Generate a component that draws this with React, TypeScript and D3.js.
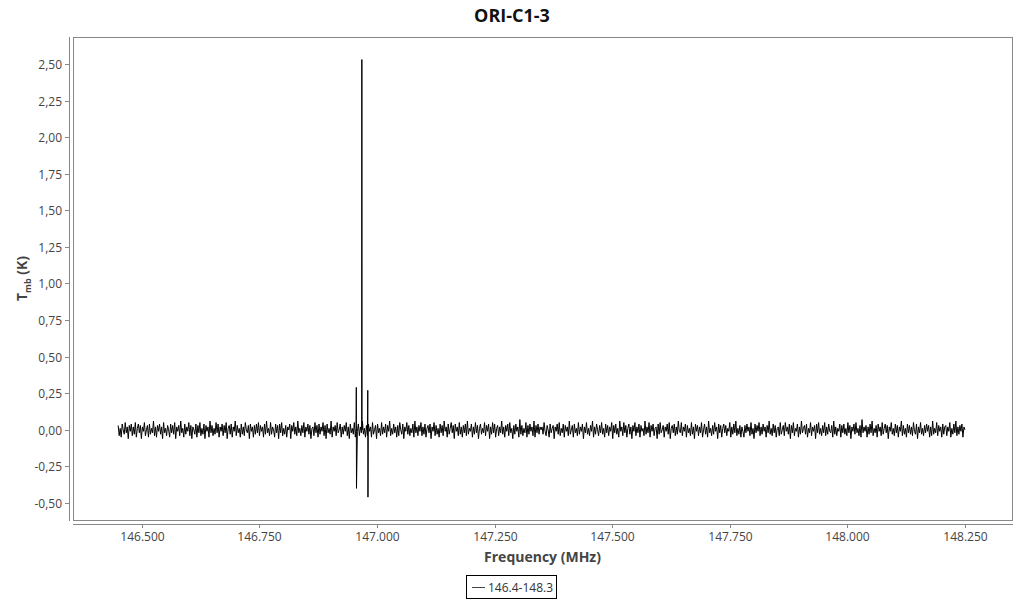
import React from "react";
import * as d3 from "d3";

const title = "ORI-C1-3";
const seriesName = "146.4-148.3";
const xTicks = [146.5, 146.75, 147.0, 147.25, 147.5, 147.75, 148.0, 148.25];
const yTicks = [-0.5, -0.25, 0, 0.25, 0.5, 0.75, 1.0, 1.25, 1.5, 1.75, 2.0, 2.25, 2.5];
const freqStart = 146.45;
const freqEnd = 148.25;

// baseline noise in units of 0.01 K, read as an approximate trace across the band
const noiseCentiK = [
  3,-4,1,-5,4,0,-3,5,-2,2,-6,3,-1,4,-4,2,-3,5,-5,1,
  4,-2,3,-6,2,-1,5,-4,0,3,-5,4,-3,1,-2,6,-4,2,-5,3,
  -1,4,-3,2,-6,5,-2,1,-4,3,0,-5,4,-2,3,-3,5,-6,2,-1,
  3,-4,6,-2,1,-5,4,-3,2,-1,5,-4,3,-6,2,0,-3,4,-5,3,
  -2,5,-4,1,-3,4,-6,3,-1,2,-5,6,-2,3,-4,1,-3,5,-2,4,
  -5,2,-1,4,-4,3,-2,5,-6,1,3,-3,4,-5,2,-1,6,-4,3,-2,
  1,-5,4,-3,2,-4,5,0,-2,3,-6,4,-1,2,-5,3,-3,4,-2,5,
  -4,3,-1,2,-5,4,-3,6,-2,1,-4,5,-3,2,0,-5,4,-2,3,-6,
  4,-2,5,-4,1,-3,3,-5,2,0,4,-6,3,-1,5,-3,2,-4,6,-2,
  1,-4,3,-2,5,-5,2,-1,4,-3,3,-6,1,2,-4,5,-2,3,-5,4,
  -3,2,-1,5,-4,3,-6,4,-2,1,-3,6,-5,2,-1,3,-4,5,-2,0,
  4,-5,2,-3,3,-1,5,-4,2,-6,4,-2,1,-3,5,-5,3,-1,4,-4,
  2,-2,6,-3,1,-5,3,-4,4,-1,2,-5,5,-3,0,3,-6,4,-2,1,
  -4,5,-3,2,-2,4,-5,3,-1,6,-4,1,-3,4,-2,2,-5,3,-4,5,
  0,-3,4,-6,2,-1,5,-3,3,-4,1,-2,4,-5,6,-2,2,-4,3,-1,
  5,-4,2,-3,4,-5,1,3,-2,4,-6,2,-1,5,-4,3,-3,1,-5,4,
  -2,3,-4,6,-1,2,-5,4,-3,1,5,-2,3,-6,4,-1,2,-4,5,-3,
  2,-5,3,-2,4,-4,6,-3,1,-1,4,-5,2,-3,5,-2,3,-6,1,4,
  -3,1,-2,5,-4,3,-1,4,-6,2,-3,5,-2,4,-5,1,3,-4,2,-2,
  6,-3,2,-5,3,-1,4,-4,5,-2,1,-6,3,-3,4,-1,2,-5,7,-3,
  3,-4,1,-2,5,-5,3,-3,4,-1,2,-4,6,-5,3,-2,4,-3,2,0,
  2,-3,5,-1,-4,3,0,-5,4,-2,1,3,-6,2,-1,4,-3,5,-4,1,
  -2,4,-5,3,-1,2,-4,6,-3,0,3,-5,4,-2,1,-4,5,-3,2,-1,
  4,-6,2,-2,5,-3,1,-4,3,-1,6,-5,2,-3,4,0,-4,3,-2,5,
  -3,1,-5,4,-2,3,-4,2,-1,5,-6,3,-2,4,-3,1,-5,6,-1,2,
  -4,5,-2,3,-5,1,4,-3,2,-6,3,-1,5,-4,2,-2,4,-5,3,-1,
  1,-4,6,-3,2,-2,5,-5,3,-1,4,-4,1,2,-6,4,-3,5,-2,0,
  3,-5,2,-1,4,-3,5,-6,1,3,-2,4,-4,2,-3,6,-1,-2,5,-4,
  2,-1,4,-5,3,-2,1,-4,5,-3,2,-6,4,-1,3,-4,2,-2,5,-5,
  0,4,-3,2,-5,6,-2,1,-4,3,-3,5,-1,2,-6,4,-2,3,-5,1,
  4,-2,3,-4,1,-1,5,-5,2,-3,4,-2,6,-4,1,-3,3,-5,2,-1,
  -5,3,-2,4,-1,2,-4,5,-3,1,-6,4,-2,3,-1,5,-4,2,-3,4,
  -1,2,-5,3,-2,6,-3,1,-4,4,-2,3,-5,1,2,-4,5,-3,0,3,
  -4,5,-1,2,-3,4,-6,3,-2,5,-4,1,-1,4,-5,2,-3,6,-2,1,
  3,-3,4,-5,1,-2,5,-4,2,-1,3,-6,4,-2,5,-3,1,-4,3,-2,
  5,-4,2,-3,4,-1,-2,3,-5,6,-3,2,-4,1,-1,4,-5,3,-2,4,
  -3,1,-4,5,-2,3,-6,2,-1,4,-3,5,-2,1,-4,3,-5,7,-2,2,
  -1,3,-5,2,-3,4,-2,6,-4,1,-2,3,-5,4,-1,2,-4,5,-3,1,
  4,-2,3,-6,2,-1,5,-3,1,-4,4,-2,3,-5,2,-1,6,-4,3,-3,
  1,-5,4,-2,3,-3,2,-4,5,-1,-3,4,-6,2,-2,5,-3,1,-4,3,
  -2,4,-1,3,-5,2,-4,6,-3,1,-2,5,-4,3,-1,2,-5,4,-3,2,
  3,-4,2,-1,5,-5,1,-3,4,-2,6,-4,2,-3,3,-1,4,-5,2,0,
];

// emission / absorption features (MHz, K)
const lineFreqs = [146.9558, 146.9562, 146.9566, 146.9676, 146.968, 146.9684, 146.9806, 146.981, 146.9813, 146.9816];
const lineVals = [0.01, 0.29, -0.40, 0.0, 2.53, 0.0, 0.27, -0.46, -0.29, 0.01];

const W = 1024;
const H = 600;
const frame = { left: 73, top: 37, right: 1012, bottom: 520 };
const yAxisX = 69;
const xAxisY = 524;
const FONT = "'Open Sans', 'Noto Sans', sans-serif";

export default function App() {
  const x = d3.scaleLinear().domain([146.354, 148.35]).range([frame.left, frame.right]);
  const y = d3.scaleLinear().domain([-0.616, 2.684]).range([frame.bottom, frame.top]);

  const step = (freqEnd - freqStart) / (noiseCentiK.length - 1);
  const pts: [number, number][] = noiseCentiK.map((v, i) => [freqStart + i * step, v / 100]);
  lineFreqs.forEach((f, i) => pts.push([f, lineVals[i]]));
  pts.sort((a, b) => a[0] - b[0]);

  const line = d3.line<[number, number]>().x((d) => x(d[0])).y((d) => y(d[1]));
  const fmtY = (v: number) => d3.format(".2f")(v).replace(".", ",").replace("−", "-");
  const fmtX = d3.format(".3f");

  return (
    <svg width={W} height={H} style={{ position: "absolute", left: 0, top: 0, background: "#fff" }} fontFamily={FONT}>
      <text x={512} y={22} textAnchor="middle" fontSize={18} fontWeight="bold" fill="#111">{title}</text>
      <rect x={frame.left + 0.5} y={frame.top + 0.5} width={frame.right - frame.left} height={frame.bottom - frame.top} fill="none" stroke="#888" strokeWidth={1} />
      <line x1={yAxisX + 0.5} x2={yAxisX + 0.5} y1={frame.top} y2={frame.bottom + 1} stroke="#888" />
      <line x1={frame.left} x2={frame.right + 1} y1={xAxisY + 0.5} y2={xAxisY + 0.5} stroke="#888" />
      {yTicks.map((t) => (
        <g key={t} transform={`translate(0,${Math.round(y(t)) + 0.5})`}>
          <line x1={yAxisX - 4} x2={yAxisX} stroke="#888" />
          <text x={yAxisX - 7} dy="0.35em" textAnchor="end" fontSize={12} fill="#444">{fmtY(t)}</text>
        </g>
      ))}
      {xTicks.map((t) => (
        <g key={t} transform={`translate(${Math.round(x(t)) + 0.5},0)`}>
          <line y1={xAxisY} y2={xAxisY + 4} stroke="#888" />
          <text y={xAxisY + 17} textAnchor="middle" fontSize={12} fill="#444">{fmtX(t)}</text>
        </g>
      ))}
      <text x={(frame.left + frame.right) / 2} y={562} textAnchor="middle" fontSize={14} fontWeight="bold" fill="#444">Frequency (MHz)</text>
      <g transform={`translate(27,${(frame.top + frame.bottom) / 2}) rotate(-90)`}>
        <text textAnchor="middle" fontSize={14} fontWeight="bold" fill="#444">
          T<tspan fontSize={9} dy={4}>mb</tspan><tspan dy={-4}> (K)</tspan>
        </text>
      </g>
      <path d={line(pts) || ""} fill="none" stroke="#000" strokeWidth={1} />
      <g>
        <rect x={466.5} y={575.5} width={90} height={23} fill="#fff" stroke="#000" />
        <line x1={472} x2={485} y1={587.5} y2={587.5} stroke="#444" />
        <text x={488} y={591.5} fontSize={12} fill="#333">{seriesName}</text>
      </g>
    </svg>
  );
}
